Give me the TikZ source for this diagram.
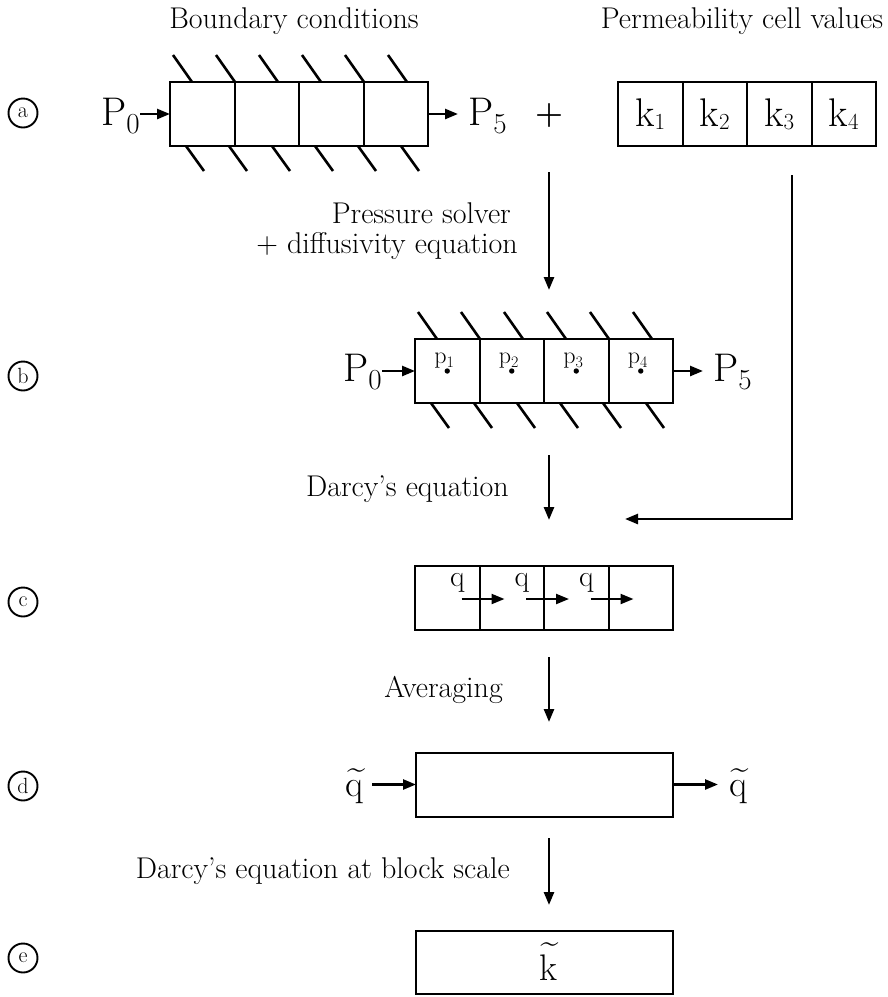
\RequirePackage{fix-cm}
\documentclass[tikz,border=0pt]{standalone}
\usetikzlibrary{arrows.meta,calc}
\newcommand{\tildeover}[3]{\rlap{\hspace{#2}\raisebox{#3}{\fontsize{32}{32}\selectfont\textasciitilde}}#1}
\begin{document}
\begin{tikzpicture}[x=1pt,y=-1pt,
  cellbox/.style={draw, line width=2pt, minimum width=64.5pt, minimum height=64pt, inner sep=0pt, outer sep=0pt},
  longbox/.style={draw, line width=2pt, minimum width=257pt, minimum height=64pt, inner sep=0pt, outer sep=0pt},
  hatch/.style={line width=2.6pt},
  arr/.style={line width=2.5pt, -{Triangle[length=13pt,width=10pt]}},
  lbl/.style={font=\fontsize{30}{32}\selectfont, inner sep=0pt},
  big/.style={font=\fontsize{40}{40}\selectfont, inner sep=0pt},
  small/.style={font=\fontsize{24}{24}\selectfont, inner sep=0pt},
  qfont/.style={font=\fontsize{30}{30}\selectfont, inner sep=0pt},
  tfont/.style={font=\fontsize{37}{37}\selectfont, inner sep=0pt},
  tag/.style={draw, circle, line width=1.9pt, minimum size=29pt, inner sep=0pt, font=\fontsize{22}{22}\selectfont},
]
\useasboundingbox (0,0) rectangle (888,997);

% headers
\node[lbl, anchor=base] (hbc) at (294,28) {Boundary conditions};
\node[lbl, anchor=base] (hpc) at (742,28) {Permeability cell values};

% tags
\node[tag] (ta) at (23,113) {a};
\node[tag] (tb) at (23,376) {b};
\node[tag] (tc) at (23,602) {c};
\node[tag] (td) at (23,786) {d};
\node[tag] (te) at (23,958) {e};

% row a
\node[cellbox] (A1) at (202.25,114) {};
\node[cellbox] (A2) at (266.75,114) {};
\node[cellbox] (A3) at (331.25,114) {};
\node[cellbox] (A4) at (395.75,114) {};
\foreach \i in {0,...,5} {
  \draw[hatch] ($(A1.north west)+({3+43*\i},-27)$) -- ($(A1.north west)+({22+43*\i},0)$);
  \draw[hatch] ($(A1.south west)+({16+43*\i},0)$) -- ($(A1.south west)+({34+43*\i},25)$);
}
\node[big, anchor=base east] (pa0) at (140,125) {P\raisebox{-8pt}{\fontsize{29}{29}\selectfont 0}};
\node[big, anchor=base west] (pa5) at (468,125) {P\raisebox{-8pt}{\fontsize{29}{29}\selectfont 5}};
\draw[arr] (A1.west -| pa0.east) -- (A1.west);
\draw[arr] (A4.east) -- ($(A4.east -| pa5.west)+(-10,0)$);
\node[font=\fontsize{32}{32}\selectfont\bfseries, inner sep=0pt] (plus) at (549,116) {+};

% permeability cells
\node[cellbox, big] (K1) at (650.25,114) {k\raisebox{-3pt}{\fontsize{23}{23}\selectfont 1}};
\node[cellbox, big] (K2) at (714.75,114) {k\raisebox{-3pt}{\fontsize{23}{23}\selectfont 2}};
\node[cellbox, big] (K3) at (779.25,114) {k\raisebox{-3pt}{\fontsize{23}{23}\selectfont 3}};
\node[cellbox, big] (K4) at (843.75,114) {k\raisebox{-3pt}{\fontsize{23}{23}\selectfont 4}};

% arrow a -> b
\coordinate (ab0) at (549,172);
\coordinate (ab1) at (549,290);
\draw[arr] (ab0) -- (ab1);
\node[lbl, anchor=base east] (lps) at (511,223) {Pressure solver};
\node[lbl, anchor=base east] (lde) at (518,253) {+ diffusivity equation};

% row b
\node[cellbox] (B1) at (447.25,371) {};
\node[cellbox] (B2) at (511.75,371) {};
\node[cellbox] (B3) at (576.25,371) {};
\node[cellbox] (B4) at (640.75,371) {};
\foreach \i in {0,...,5} {
  \draw[hatch] ($(B1.north west)+({3+43*\i},-27)$) -- ($(B1.north west)+({22+43*\i},0)$);
  \draw[hatch] ($(B1.south west)+({16+43*\i},0)$) -- ($(B1.south west)+({34+43*\i},25)$);
}
\foreach \n/\c in {1/B1,2/B2,3/B3,4/B4} {
  \fill (\c.center) circle (2.7pt);
  \node[small, anchor=base west] (pp\n) at ($(\c.center)+(-13,-8)$) {p\raisebox{-4pt}{\fontsize{16}{16}\selectfont \n}};
}
\node[big, anchor=base east] (pb0) at (382,381) {P\raisebox{-8pt}{\fontsize{29}{29}\selectfont 0}};
\node[big, anchor=base west] (pb5) at (713,381) {P\raisebox{-8pt}{\fontsize{29}{29}\selectfont 5}};
\draw[arr] (B1.west -| pb0.east) -- (B1.west);
\draw[arr] (B4.east) -- ($(B4.east -| pb5.west)+(-10,0)$);

% arrow b -> c and permeability feed
\coordinate (bc0) at (549,455);
\coordinate (bc1) at (549,520);
\draw[arr] (bc0) -- (bc1);
\node[lbl, anchor=base east] (ldarcy) at (509,496) {Darcy's equation};
\coordinate (kk0) at (792,175);
\coordinate (kk1) at (792,519);
\coordinate (kk2) at (625,519);
\draw[arr] (kk0) -- (kk1) -- (kk2);

% row c
\node[cellbox] (C1) at (447.25,598) {};
\node[cellbox] (C2) at (511.75,598) {};
\node[cellbox] (C3) at (576.25,598) {};
\node[cellbox] (C4) at (640.75,598) {};
\foreach \c/\n in {C1/1,C2/2,C3/3} {
  \coordinate (qs\n) at ($(\c.east)+(-18,1)$);
  \coordinate (qe\n) at ($(\c.east)+(25,1)$);
  \draw[arr, line width=2.2pt] (qs\n) -- (qe\n);
  \node[qfont, anchor=base] (q\n) at ($(\c.east)+(-22,-12)$) {q};
}

% arrow c -> d
\coordinate (cd0) at (549,657);
\coordinate (cd1) at (549,722);
\draw[arr] (cd0) -- (cd1);
\node[lbl, anchor=base east] (lavg) at (503,697) {Averaging};

% row d
\node[longbox] (D) at (544.5,784.5) {};
\node[tfont, anchor=base east] (qd0) at (364,796) {\tildeover{q}{1.5pt}{18pt}};
\node[tfont, anchor=base west] (qd1) at (729,796) {\tildeover{q}{1.5pt}{18pt}};
\draw[arr] ($(D.west -| qd0.east)+(8,0)$) -- (D.west);
\draw[arr] (D.east) -- ($(D.east -| qd1.west)+(-11,0)$);

% arrow d -> e
\coordinate (de0) at (549,838);
\coordinate (de1) at (549,905);
\draw[arr] (de0) -- (de1);
\node[lbl, anchor=base east] (lblk) at (510,878) {Darcy's equation at block scale};

% row e
\node[longbox, minimum height=63pt] (E) at (544.5,962.5) {};
\node[tfont, anchor=base] (ke) at (548,980) {\tildeover{k}{1.5pt}{27.5pt}};
\end{tikzpicture}
\end{document}
